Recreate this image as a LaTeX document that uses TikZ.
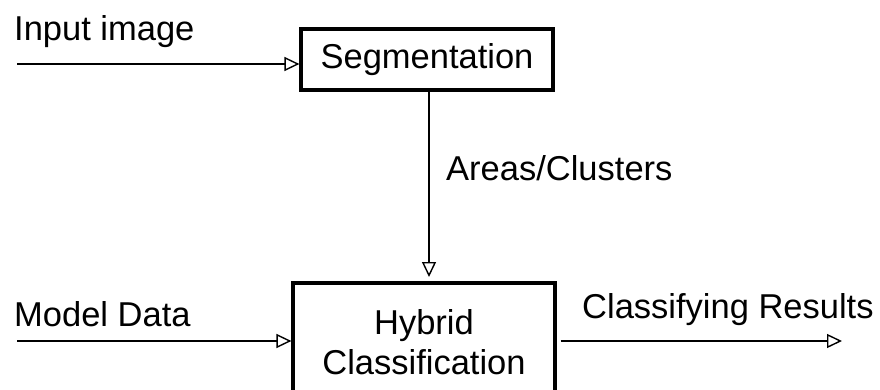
\documentclass[tikz,border=0pt]{standalone}
\usepackage{fontspec}
\setmainfont{Liberation Sans}
\usetikzlibrary{arrows.meta}
\begin{document}
\begin{tikzpicture}[x=1pt,y=-1pt,
  block/.style={draw, line width=3.2pt, inner sep=0pt, font=\fontsize{34.5}{40}\selectfont},
  lbl/.style={font=\fontsize{34.5}{40}\selectfont, inner sep=0pt, anchor=base west},
  flow/.style={line width=1.4pt, -{Triangle[open, length=15pt, width=14pt, line width=1.4pt]}}]
  \clip (0,0) rectangle (880,390);
  \fill[white] (0,0) rectangle (880,390);

  % processing blocks
  \node[block, minimum width=252pt, minimum height=61pt] (seg) at (427,59.5) {Segmentation};
  \node[block, minimum width=262pt, minimum height=118pt, align=center] (hyb) at (424,342) {Hybrid\\[0pt]Classification};

  % free ends of the connectors
  \coordinate (inS) at (17,64);
  \coordinate (inM) at (17,341);
  \coordinate (out) at (842,341);

  % connectors
  \draw[flow] (inS) -- (inS -| seg.west);
  \draw[flow] (seg.south -| 429,0) -- (429,277);
  \draw[flow] (inM) -- (inM -| hyb.west);
  \draw[flow] (hyb.east |- out) ++(4,0) -- (out);

  % labels
  \node[lbl] (tIn) at (14,41) {Input image};
  \node[lbl] (tAr) at (446,181) {Areas/Clusters};
  \node[lbl] (tMd) at (14,326) {Model Data};
  \node[lbl] (tRs) at (582,318) {Classifying Results};
\end{tikzpicture}
\end{document}
